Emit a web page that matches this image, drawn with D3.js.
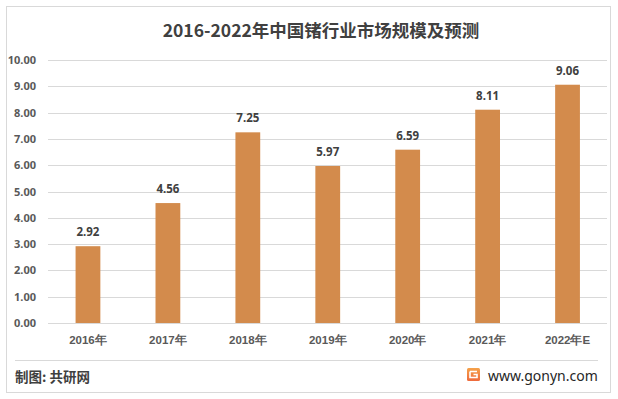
<!DOCTYPE html>
<html><head><meta charset="utf-8">
<script src="https://cdn.jsdelivr.net/npm/d3@7"></script>
<style>body{margin:0;background:#fff;}svg{display:block;font-family:"Microsoft YaHei","Noto Sans CJK SC","Noto Sans",sans-serif;}</style>
</head><body>
<script>
const categories = ["2016年","2017年","2018年","2019年","2020年","2021年","2022年E"];
const values = [2.92,4.56,7.25,5.97,6.59,8.11,9.06];
const yTicks = [0,1,2,3,4,5,6,7,8,9,10];
const title = "2016-2022年中国锗行业市场规模及预测";
const source = "制图: 共研网";
const site = "www.gonyn.com";

const W=618,H=399;
const svg=d3.select("body").append("svg").attr("width",W).attr("height",H);
svg.append("rect").attr("x",6.5).attr("y",6.5).attr("width",604).attr("height",386)
  .attr("fill","#fff").attr("stroke","#d9d9d9").attr("stroke-width",1);

const x=d3.scaleBand().domain(categories).range([48,607.5]).paddingInner(0.69).paddingOuter(0.345);
const y=d3.scaleLinear().domain([0,10]).range([323,60]);

// gridlines
svg.append("g").selectAll("line").data(yTicks).join("line")
  .attr("x1",48).attr("x2",607).attr("y1",d=>Math.round(y(d))+0.5).attr("y2",d=>Math.round(y(d))+0.5)
  .attr("stroke","#d9d9d9").attr("stroke-width",1);

// y axis labels
const ya=svg.append("g").attr("transform","translate(36,0)")
  .call(d3.axisLeft(y).tickValues(yTicks).tickFormat(d3.format(".2f")).tickSize(0).tickPadding(0));
ya.select(".domain").remove();
ya.selectAll("text").attr("fill","#595959").attr("font-size",11).attr("font-weight","bold")
  .attr("font-family","'Noto Sans',sans-serif");

// x axis
const xa=svg.append("g").attr("transform","translate(0,"+y(0)+")")
  .call(d3.axisBottom(x).tickSize(0).tickPadding(13));
xa.select(".domain").remove();
xa.selectAll("text").attr("fill","#595959").attr("font-size",11.5).attr("font-weight","bold");

// bars
svg.append("g").selectAll("rect").data(values).join("rect")
  .attr("x",(d,i)=>x(categories[i])).attr("width",x.bandwidth())
  .attr("y",d=>y(d)).attr("height",d=>y(0)-y(d)).attr("fill","#D38B4C");

// value labels
svg.append("g").selectAll("text").data(values).join("text")
  .attr("x",(d,i)=>x(categories[i])+x.bandwidth()/2).attr("y",d=>y(d)-10)
  .attr("text-anchor","middle").attr("font-size",11.5).attr("font-weight","bold")
  .attr("fill","#404040").attr("font-family","'Noto Sans',sans-serif")
  .text(d=>d3.format(".2f")(d));

// title
svg.append("text").attr("x",321).attr("y",37).attr("text-anchor","middle")
  .attr("font-size",17.5).attr("font-weight","bold").attr("fill","#404040").text(title);

// separator
svg.append("line").attr("x1",15).attr("x2",598).attr("y1",360.5).attr("y2",360.5)
  .attr("stroke","#d9d9d9");

svg.append("text").attr("x",15).attr("y",382).attr("font-size",13.5).attr("font-weight","bold")
  .attr("fill","#404040").text(source);

// logo
const defs=svg.append("defs");
const lg=defs.append("linearGradient").attr("id","lg").attr("x1",0).attr("y1",0).attr("x2",0).attr("y2",1);
lg.append("stop").attr("offset",0).attr("stop-color","#F5A24A");
lg.append("stop").attr("offset",1).attr("stop-color","#EE6A3C");
const lgG=svg.append("g").attr("transform","translate(467,368)");
lgG.append("rect").attr("width",13).attr("height",13).attr("rx",1.5).attr("fill","url(#lg)");
lgG.append("path").attr("d","M3,3.5 H10 M3,3.5 V9.5 H10 V6.5 H6.5").attr("fill","none").attr("stroke","#fff").attr("stroke-width",1.6);
svg.append("text").attr("x",488).attr("y",381).attr("font-size",14).attr("fill","#262626")
  .attr("font-family","'Noto Sans',sans-serif").text(site);
</script>
</body></html>
